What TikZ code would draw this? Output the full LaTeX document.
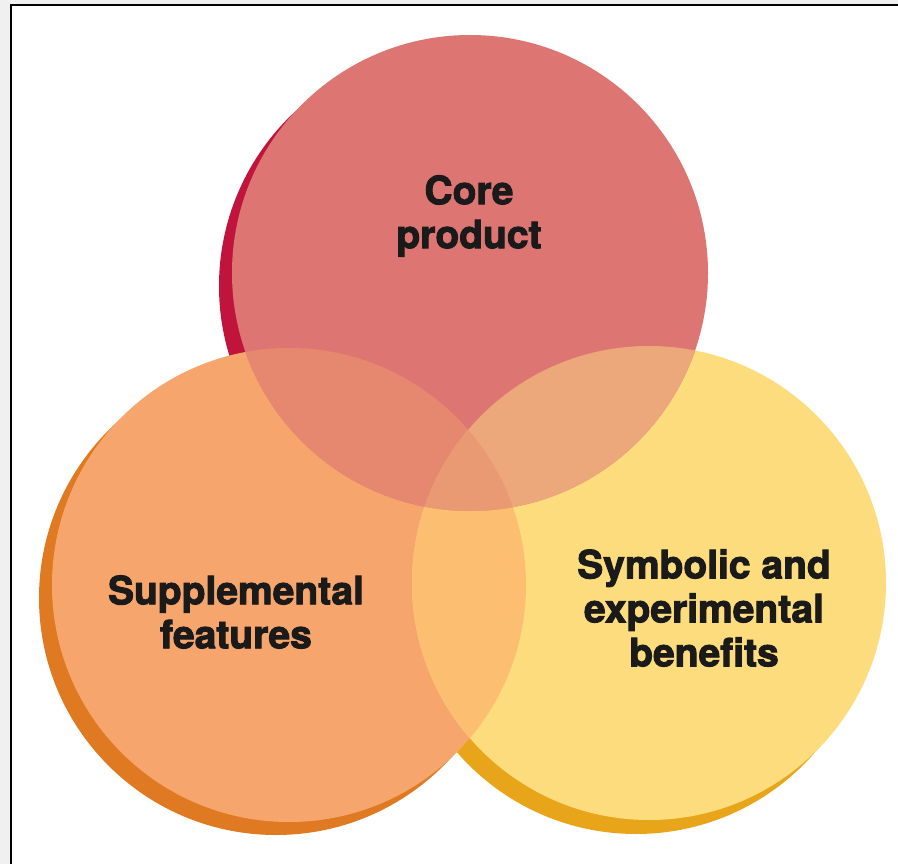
\documentclass[tikz,border=0pt]{standalone}
\usepackage{fontspec}
\newfontfamily\labfont{TeX Gyre Heros}[BoldFeatures={FakeBold=2.4}]
\definecolor{pagegray}{HTML}{F0F0F0}
\definecolor{topfill}{HTML}{DD7672}
\definecolor{topshadow}{HTML}{C0143C}
\definecolor{leftfill}{HTML}{F6A66D}
\definecolor{leftshadow}{HTML}{E07A22}
\definecolor{rightfill}{HTML}{FCDC7C}
\definecolor{rightshadow}{HTML}{E8A51A}
\definecolor{tlfill}{HTML}{E6886F}
\definecolor{trfill}{HTML}{ECA77A}
\definecolor{lrfill}{HTML}{FCBF72}
\definecolor{tlrfill}{HTML}{E99A73}
\definecolor{labtext}{HTML}{1A1A1A}
\tikzset{
  lab/.style={font=\labfont\bfseries\fontsize{39}{44}\selectfont, text=labtext, align=center, inner sep=0pt}
}
\begin{document}
\begin{tikzpicture}[x=1pt,y=-1pt]
\useasboundingbox (0,0) rectangle (898,864);
\fill[pagegray] (0,0) rectangle (898,864);
\fill[white] (11,5) rectangle (898,864);
\draw[line width=2.2pt] (11,864) -- (11,5) -- (898,5);

\coordinate (T) at (470,273);
\coordinate (L) at (289,585);
\coordinate (R) at (649,583);
\def\rt{238pt}
\def\rl{237pt}
\def\rr{237pt}

% shadows
\fill[topshadow] ([shift={(-13,13)}]T) circle (\rt);
\fill[leftshadow] ([shift={(-13,13)}]L) circle (\rl);
\fill[rightshadow] ([shift={(-13,14)}]R) circle (\rr);

% main fills
\fill[leftfill] (L) circle (\rl);
\fill[rightfill] (R) circle (\rr);
\fill[topfill] (T) circle (\rt);

% overlaps
\begin{scope}
  \clip (L) circle (\rl);
  \fill[lrfill] (R) circle (\rr);
\end{scope}
\begin{scope}
  \clip (T) circle (\rt);
  \fill[tlfill] (L) circle (\rl);
  \fill[trfill] (R) circle (\rr);
  \clip (L) circle (\rl);
  \fill[tlrfill] (R) circle (\rr);
\end{scope}

\node[lab] (core) at (469,216) {Core\\product};
\node[lab] (supp) at (236,612) {Supplemental\\features};
\node[lab] (symb) at (704,608) {Symbolic and\\experimental\\benefits};
\end{tikzpicture}
\end{document}
